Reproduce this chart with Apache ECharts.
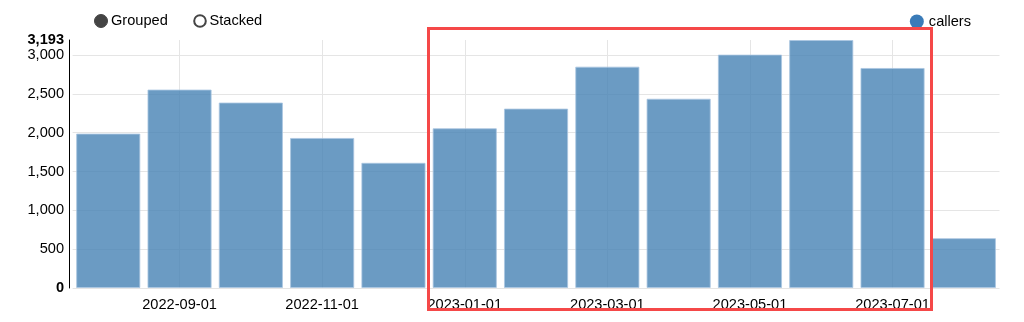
<!DOCTYPE html>
<html>
<head>
<meta charset="utf-8">
<script src="https://cdn.jsdelivr.net/npm/echarts@6/dist/echarts.min.js"></script>
<style>
html,body{margin:0;padding:0;background:#fff;}
#chart{width:1024px;height:322px;}
</style>
</head>
<body>
<div id="chart"></div>
<script>
const categories = ['2022-08-01','2022-09-01','2022-10-01','2022-11-01','2022-12-01','2023-01-01','2023-02-01','2023-03-01','2023-04-01','2023-05-01','2023-06-01','2023-07-01','2023-08-01'];
const callers = [1988, 2555, 2388, 1932, 1612, 2057, 2310, 2850, 2437, 3005, 3193, 2833, 642];
const seriesName = 'callers';
const yMax = 3193;
const yInterval = 500;
const controlLabels = ['Grouped', 'Stacked'];

const FONT = '"Liberation Sans", Arial, sans-serif';
const chart = echarts.init(document.getElementById('chart'), null, {renderer: 'canvas'});

const nTicks = Math.floor(yMax / yInterval) + 2;
const splitColors = [];
for (let i = 0; i < nTicks - 1; i++) splitColors.push('#e5e5e5');
splitColors.push('rgba(0,0,0,0)');

chart.setOption({
  animation: false,
  textStyle: {fontFamily: FONT},
  legend: {
    data: [seriesName],
    right: 48,
    top: 9,
    icon: 'circle',
    itemWidth: 14,
    itemHeight: 14,
    itemStyle: {color: '#3a7bb8', borderWidth: 0, opacity: 1},
    textStyle: {fontFamily: FONT, fontSize: 14.6, color: '#000'}
  },
  grid: {left: 72.6, right: 24.5, top: 40, bottom: 34, containLabel: false},
  xAxis: {
    type: 'category',
    data: categories,
    axisLine: {show: false},
    axisTick: {show: false},
    axisLabel: {
      interval: function (i) { return i % 2 === 1; },
      fontFamily: FONT, fontSize: 14.6, color: '#000', margin: 9
    },
    splitLine: {
      show: true,
      alignWithLabel: true,
      interval: function (i) { return i % 2 === 1; },
      lineStyle: {color: '#e5e5e5', width: 1}
    }
  },
  yAxis: {
    type: 'value',
    min: 0,
    max: yMax,
    interval: yInterval,
    offset: 3.6,
    axisLine: {show: true, lineStyle: {color: '#000', width: 1}},
    axisTick: {show: false},
    axisLabel: {
      margin: 5,
      fontFamily: FONT, fontSize: 14.6, color: '#000',
      formatter: function (v) {
        const s = Number(v).toLocaleString('en-US');
        if (v === 0 || v === yMax) return '{b|' + s + '}';
        return s;
      },
      rich: {b: {fontWeight: 'bold', fontFamily: FONT, fontSize: 14.6, color: '#000'}}
    },
    splitLine: {show: true, lineStyle: {color: splitColors, width: 1}}
  },
  series: [{
    name: seriesName,
    type: 'bar',
    data: callers,
    barCategoryGap: '10%',
    itemStyle: {
      color: 'rgba(70,130,180,0.8)',
      borderColor: 'rgba(170,198,225,0.8)',
      borderWidth: 1
    }
  }],
  color: ['#3a7bb8'],
  graphic: [
    {type: 'circle', shape: {cx: 101, cy: 21, r: 6.5}, style: {fill: '#444', stroke: '#444', lineWidth: 1}},
    {type: 'text', left: 111, top: 13, style: {text: controlLabels[0], font: '14.6px ' + FONT, fill: '#000'}},
    {type: 'circle', shape: {cx: 200, cy: 21, r: 5.8}, style: {fill: '#fff', stroke: '#444', lineWidth: 2}},
    {type: 'text', left: 209.5, top: 13, style: {text: controlLabels[1], font: '14.6px ' + FONT, fill: '#000'}},
    {type: 'rect', z: 100, shape: {x: 428.5, y: 28.5, width: 503, height: 281}, style: {fill: 'none', stroke: '#f54848', lineWidth: 3}}
  ]
});
</script>
</body>
</html>
